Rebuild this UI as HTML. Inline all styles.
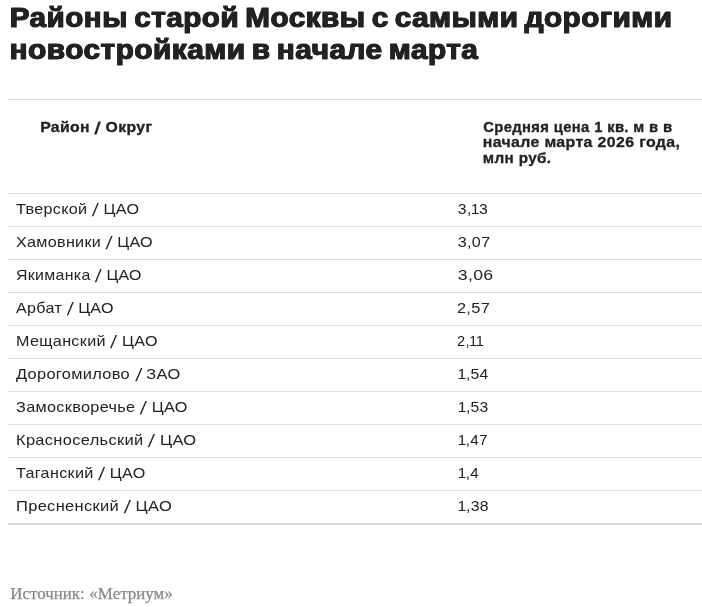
<!DOCTYPE html>
<html lang="ru"><head><meta charset="utf-8"><title>Районы старой Москвы</title>
<style>
html,body{margin:0;padding:0;background:#fff;}
body{width:702px;height:607px;overflow:hidden;position:relative;font-family:"Liberation Sans",sans-serif;color:#222;}
.s{display:inline-block;transform-origin:0 50%;white-space:nowrap;}
h1{position:absolute;left:10px;top:1px;margin:0;font-size:28.5px;line-height:32px;font-weight:bold;color:#222;white-space:nowrap;-webkit-text-stroke:1px #222;text-shadow:0.5px 0 #222,-0.5px 0 #222;letter-spacing:0.5px;word-spacing:-2.5px;}
h1 .s{display:block;}
table{position:absolute;left:8px;top:99px;width:694px;border-collapse:collapse;table-layout:fixed;}
th{font-size:15px;letter-spacing:0.35px;-webkit-text-stroke:0.3px #222;font-weight:bold;text-align:left;vertical-align:top;line-height:15.3px;border-top:1px solid #dedede;border-bottom:1px solid #dedede;height:94px;padding:0;box-sizing:border-box;color:#222;}
th .w{padding-top:19px;}
th .w .s{display:block;}
th.a .w{padding-left:33px;}
th.a{width:450px;}
td{font-size:15px;letter-spacing:0.3px;line-height:20px;height:33px;padding:5px 0 0 0;vertical-align:top;border-bottom:1px solid #dedede;box-sizing:border-box;color:#222;}
.sl{display:inline-block;font-size:18px;line-height:1px;transform:translateY(1.8px) skewX(-7deg);letter-spacing:0;margin:0 0.5px;}
th .sl{font-size:17px;}
.d1{margin:0 -0.7px 0 -0.9px;}
td.a{padding-left:7.7px;}
tr:last-child td{border-bottom:2px solid #d9d9d9;}
.src{position:absolute;left:10px;top:584px;line-height:20px;font-family:"Liberation Serif",serif;font-size:17px;color:#888;-webkit-text-stroke:0.25px #888;word-spacing:0.3px;}
</style></head><body>
<h1><span class="s" style="transform:translateX(-0.37px) scaleX(1.0389)">Районы старой Москвы с самыми дорогими</span><span class="s" style="transform:translateX(-0.38px) scaleX(1.0437)">новостройками в начале марта</span></h1>
<table>
<tr><th class="a"><div class="w"><span class="s" style="transform:translateX(-0.84px) scaleX(1.0526)">Район <span class="sl">/</span> Округ</span></div></th><th class="b"><div class="w"><span class="s" style="transform:translateX(25.34px) scaleX(0.9868)">Средняя цена 1 кв. м в в</span><span class="s" style="transform:translateX(24.68px) scaleX(1.0585)">начале марта 2026 года,</span><span class="s" style="transform:translateX(24.85px) scaleX(1.0173)">млн руб.</span></div></th></tr>
<tr><td class="a"><span class="s" style="transform:translateX(0.00px) scaleX(1.0758)">Тверской <span class="sl">/</span> ЦАО</span></td><td><span class="s" style="transform:translateX(-0.15px) scaleX(1.0520)">3,<span class="d1">1</span>3</span></td></tr>
<tr><td class="a"><span class="s" style="transform:translateX(0.00px) scaleX(1.0736)">Хамовники <span class="sl">/</span> ЦАО</span></td><td><span class="s" style="transform:translateX(-0.23px) scaleX(1.0740)">3,07</span></td></tr>
<tr><td class="a"><span class="s" style="transform:translateX(0.00px) scaleX(1.0602)">Якиманка <span class="sl">/</span> ЦАО</span></td><td><span class="s" style="transform:translateX(-0.25px) scaleX(1.1743)">3,06</span></td></tr>
<tr><td class="a"><span class="s" style="transform:translateX(0.00px) scaleX(1.0723)">Арбат <span class="sl">/</span> ЦАО</span></td><td><span class="s" style="transform:translateX(-1.10px) scaleX(1.0936)">2,57</span></td></tr>
<tr><td class="a"><span class="s" style="transform:translateX(0.00px) scaleX(1.0758)">Мещанский <span class="sl">/</span> ЦАО</span></td><td><span class="s" style="transform:translateX(-1.04px) scaleX(0.9748)">2,<span class="d1">1</span><span class="d1">1</span></span></td></tr>
<tr><td class="a"><span class="s" style="transform:translateX(0.00px) scaleX(1.0905)">Дорогомилово <span class="sl">/</span> ЗАО</span></td><td><span class="s" style="transform:translateX(0.54px) scaleX(1.0431)"><span class="d1">1</span>,54</span></td></tr>
<tr><td class="a"><span class="s" style="transform:translateX(0.00px) scaleX(1.0829)">Замоскворечье <span class="sl">/</span> ЦАО</span></td><td><span class="s" style="transform:translateX(0.56px) scaleX(1.0425)"><span class="d1">1</span>,53</span></td></tr>
<tr><td class="a"><span class="s" style="transform:translateX(0.00px) scaleX(1.0949)">Красносельский <span class="sl">/</span> ЦАО</span></td><td><span class="s" style="transform:translateX(0.60px) scaleX(1.0142)"><span class="d1">1</span>,47</span></td></tr>
<tr><td class="a"><span class="s" style="transform:translateX(0.00px) scaleX(1.0759)">Таганский <span class="sl">/</span> ЦАО</span></td><td><span class="s" style="transform:translateX(0.58px) scaleX(1.0157)"><span class="d1">1</span>,4</span></td></tr>
<tr><td class="a"><span class="s" style="transform:translateX(0.00px) scaleX(1.0966)">Пресненский <span class="sl">/</span> ЦАО</span></td><td><span class="s" style="transform:translateX(0.53px) scaleX(1.0529)"><span class="d1">1</span>,38</span></td></tr>
</table>
<div class="src"><span class="s" style="transform:translateX(0.25px) scaleX(0.9964)">Источник: «Метриум»</span></div>
</body></html>
